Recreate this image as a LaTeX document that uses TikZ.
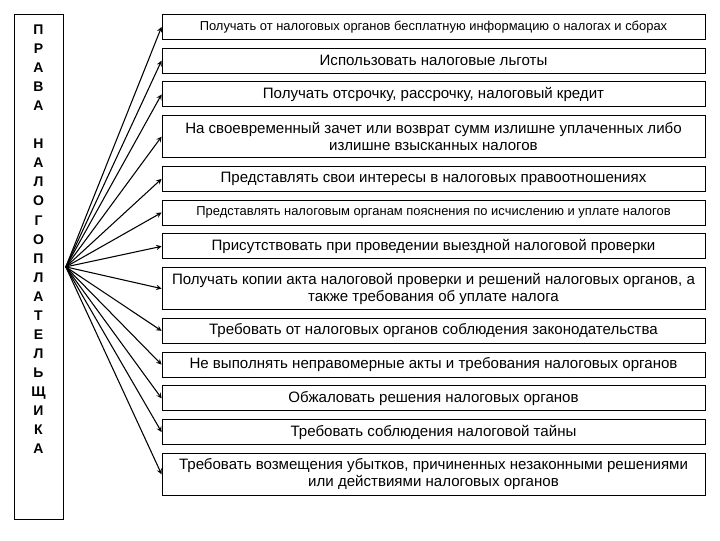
\documentclass[tikz,border=0pt]{standalone}
\usepackage{fontspec}
\setmainfont{Liberation Sans}
\usetikzlibrary{positioning}

\begin{document}
\begin{tikzpicture}[>=stealth, x=0.75pt, y=-0.75pt, node distance=6pt,
    item/.style={draw, semithick, minimum width=407.25pt, minimum height=18.7pt,
                 inner sep=2pt, align=center, font=\fontsize{11.3}{12.75}\selectfont},
    smalltext/.style={font=\fontsize{9.7}{11}\selectfont},
    twoline/.style={minimum height=31.5pt}]

  \useasboundingbox (0,0) rectangle (720,540);

  %--- Left column: taxpayer rights
  \node[draw, semithick, minimum width=36.75pt, minimum height=378.75pt,
        inner sep=0pt, anchor=north west] (rights) at (14,14) {};
  \node[anchor=north, align=center, font=\bfseries\fontsize{10.5}{14.3}\selectfont]
    (letters) at (38.5,20)
    {П\\Р\\А\\В\\А\\[14.3pt]Н\\А\\Л\\О\\Г\\О\\П\\Л\\А\\Т\\Е\\Л\\Ь\\Щ\\И\\К\\А};
  \coordinate (hub) at ([xshift=1.5pt]rights.east);

  %--- Right column: the rights themselves
  \node[item, smalltext, anchor=north] (r1) at (433.5,14)
    {Получать от налоговых органов бесплатную информацию о налогах и сборах};
  \node[item, below=of r1] (r2) {Использовать налоговые льготы};
  \node[item, below=of r2] (r3) {Получать отсрочку, рассрочку, налоговый кредит};
  \node[item, twoline, below=of r3] (r4)
    {На своевременный зачет или возврат сумм излишне уплаченных либо\\излишне взысканных налогов};
  \node[item, below=of r4] (r5) {Представлять свои интересы в налоговых правоотношениях};
  \node[item, smalltext, below=of r5] (r6)
    {Представлять налоговым органам пояснения по исчислению и уплате налогов};
  \node[item, below=of r6] (r7) {Присутствовать при проведении выездной налоговой проверки};
  \node[item, twoline, below=of r7] (r8)
    {Получать копии акта налоговой проверки и решений налоговых органов, а\\также требования об уплате налога};
  \node[item, below=of r8] (r9) {Требовать от налоговых органов соблюдения законодательства};
  \node[item, below=of r9] (r10) {Не выполнять неправомерные акты и требования налоговых органов};
  \node[item, below=of r10] (r11) {Обжаловать решения налоговых органов};
  \node[item, below=of r11] (r12) {Требовать соблюдения налоговой тайны};
  \node[item, twoline, below=of r12] (r13)
    {Требовать возмещения убытков, причиненных незаконными решениями\\или действиями налоговых органов};

  %--- Arrows from the left column
  \foreach \n in {1,...,13}
    \draw[->, line width=0.8pt] (hub) -- (r\n.west);

\end{tikzpicture}
\end{document}
